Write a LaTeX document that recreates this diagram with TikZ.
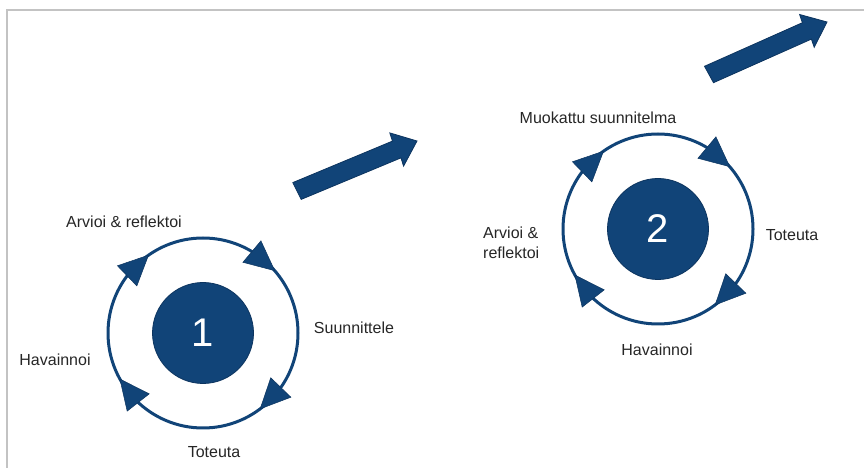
\documentclass[tikz,border=0pt]{standalone}
\usepackage{fontspec}
\setmainfont{Liberation Sans}
\usetikzlibrary{calc}
\definecolor{navy}{RGB}{17,68,120}
\definecolor{navyedge}{RGB}{12,52,95}
\definecolor{txt}{RGB}{38,38,38}
\definecolor{framegrey}{RGB}{195,195,195}
\begin{document}
\begin{tikzpicture}[x=1pt,y=1pt,
  lbl/.style={font=\fontsize{16}{20}\selectfont, text=txt, inner sep=0pt},
  ring/.style={draw=navy, line width=3pt},
  hub/.style={circle, fill=navy, draw=navyedge, line width=0.8pt, minimum size=101pt, inner sep=0pt, text=white, font=\fontsize{40}{48}\selectfont},
  bigarrow/.style={fill=navy, draw=navyedge, line width=0.8pt, line join=miter},
  ringhead/.style={fill=navy, draw=navyedge, line width=0.5pt}]
\useasboundingbox (0,0) rectangle (864,468);
\draw[framegrey, line width=1.5pt] (7,-5) -- (7,458) -- (870,458);

% cycle 1
\coordinate (c1) at (203,135);
\node[hub] (hub1) at (c1) {1};
\draw[ring] (c1) circle[radius=95];
\foreach \t in {41,125,209,307} {
  \coordinate (tp) at ($(c1)+(\t:95)$);
  \coordinate (bm) at ($(c1)+(\t+18:95)$);
  \filldraw[ringhead] (tp) -- ($(bm)!14pt!90:(tp)$) -- ($(bm)!14pt!-90:(tp)$) -- cycle;
}
\node[lbl] (arv1) at (124,246) {Arvioi \& reflektoi};
\node[lbl] (suu1) at (354,140) {Suunnittele};
\node[lbl] (hav1) at (55,108) {Havainnoi};
\node[lbl] (tot1) at (214,16) {Toteuta};

% cycle 2
\coordinate (c2) at (658,239);
\node[hub] (hub2) at (c2) {2};
\draw[ring] (c2) circle[radius=95];
\foreach \t in {41,125,209,307} {
  \coordinate (tp) at ($(c2)+(\t:95)$);
  \coordinate (bm) at ($(c2)+(\t+18:95)$);
  \filldraw[ringhead] (tp) -- ($(bm)!14pt!90:(tp)$) -- ($(bm)!14pt!-90:(tp)$) -- cycle;
}
\node[lbl] (muo2) at (598,350) {Muokattu suunnitelma};
\node[lbl] (tot2) at (792,233) {Toteuta};
\node[lbl, align=left, anchor=west] (arv2) at (483,225) {Arvioi \&\\reflektoi};
\node[lbl] (hav2) at (657,118) {Havainnoi};

% big arrows
\draw[bigarrow] (301.2,268.6) -- (400.9,310.1) -- (403.6,301.9) -- (417,327) -- (389.8,335.1) -- (392.5,326.9) -- (292.8,285.4) -- cycle;
\draw[bigarrow] (713.5,385.3) -- (811.4,428.9) -- (814.2,420.7) -- (827,446) -- (799.6,453.5) -- (802.4,445.3) -- (704.5,401.7) -- cycle;
\end{tikzpicture}
\end{document}
